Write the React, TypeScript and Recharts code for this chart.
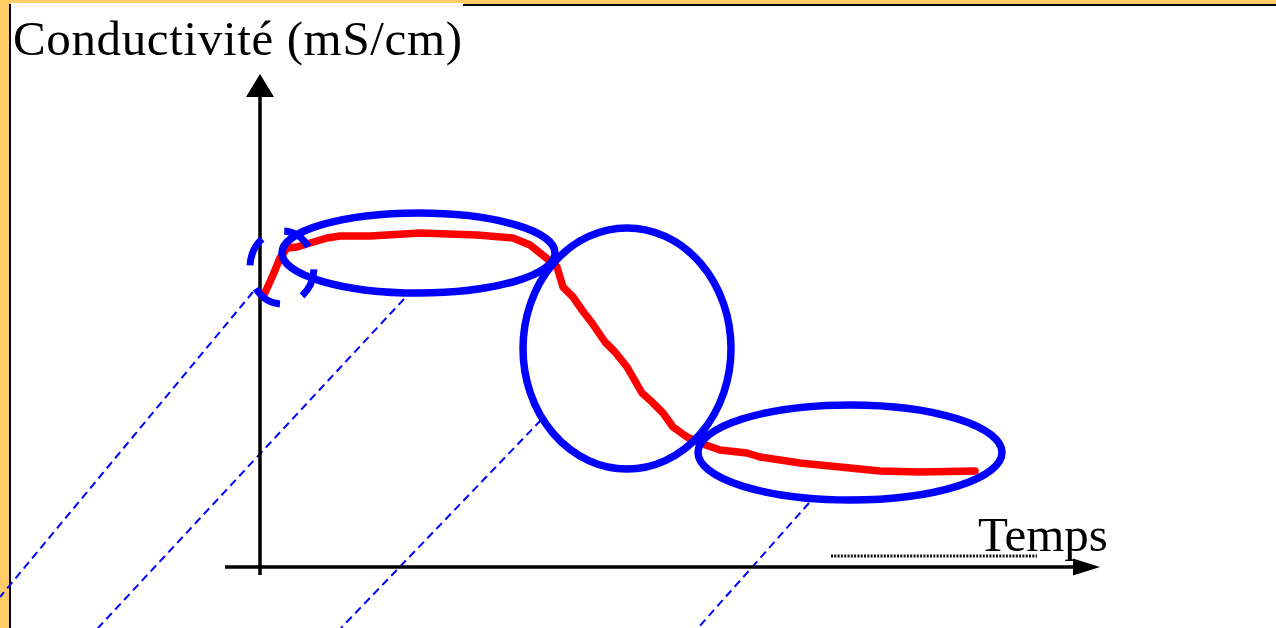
import React from "react";
import { LineChart, Line, XAxis, YAxis, ReferenceLine, ReferenceArea } from "recharts";

const W = 1276;
const H = 628;
const BLUE = "#0000FF";
const RED = "#FF0000";
const SERIF = "'Liberation Serif', 'Times New Roman', serif";

// conductivity trace: time (t) and conductivity (c), arbitrary units
const TIME = [
  0.3, 1.3, 2.0, 2.7, 3.7, 5.0, 6.7, 8.0, 11.0, 16.0, 21.7, 25.3, 27.0, 28.5,
  29.7, 30.3, 31.3, 32.2, 33.2, 34.5, 35.5, 36.7, 38.2, 39.2, 40.3, 41.3, 42.7,
  44.0, 46.0, 48.7, 50.0, 54.0, 59.0, 62.0, 66.0, 71.5,
];
const COND = [
  27.0, 29.2, 30.9, 31.9, 32.0, 32.4, 32.9, 33.1, 33.1, 33.4, 33.2, 32.9, 32.2, 31.0,
  30.0, 28.0, 27.0, 25.7, 24.4, 22.5, 21.5, 20.0, 17.4, 16.5, 15.4, 14.0, 13.0,
  12.4, 11.7, 11.4, 11.0, 10.4, 9.9, 9.6, 9.5, 9.6,
];
const curve = TIME.map((t, i) => ({ t, c: COND[i] }));

// the three phases circled on the trace: [t1, t2, c1, c2]
const PHASES = [
  [2.2, 29.5, 27.4, 35.4],
  [26.3, 47.1, 9.8, 33.9],
  [43.8, 74.2, 6.7, 16.2],
];
// dashed ring around the very first rise
const START_ZONE = [-1.0, 5.4, 26.3, 33.6];

// leader lines running from each zone down out of the frame
const LEADERS = [
  [[-0.7, 27.5], [-26.0, -3.0]],
  [[14.4, 26.8], [-16.2, -6.1]],
  [[28.1, 14.7], [8.1, -6.1]],
  [[54.9, 6.4], [43.8, -6.1]],
];

const T_MAX = 84;
const C_MAX = 49.3;

const ellipseShape = (dashed: boolean) => (p: any) => {
  const rx = Math.abs(p.width) / 2;
  const ry = Math.abs(p.height) / 2;
  const cx = p.x + p.width / 2;
  const cy = p.y + p.height / 2;
  let dash: string | undefined;
  if (dashed) {
    // Ramanujan perimeter, split in four dashes
    const per = Math.PI * (3 * (rx + ry) - Math.sqrt((3 * rx + ry) * (rx + 3 * ry)));
    dash = `${(per * 0.55) / 4} ${(per * 0.45) / 4}`;
  }
  return (
    <ellipse cx={cx} cy={cy} rx={rx} ry={ry} fill="none" stroke={BLUE}
      strokeWidth={dashed ? 7 : 7.5} strokeDasharray={dash}
      strokeDashoffset={dashed ? -2 : undefined} />
  );
};

// axis drawn as a line with a filled triangular head at its end
const arrowShape = (len: number, half: number) => (p: any) => {
  const { x1, y1, x2, y2 } = p;
  const dx = x2 - x1, dy = y2 - y1;
  const d = Math.hypot(dx, dy) || 1;
  const ux = dx / d, uy = dy / d;
  const bx = x2 - ux * len, by = y2 - uy * len;
  const pts = `${x2},${y2} ${bx - uy * half},${by + ux * half} ${bx + uy * half},${by - ux * half}`;
  return (
    <g>
      <line x1={x1} y1={y1} x2={bx} y2={by} stroke="#000" strokeWidth={3.5} />
      <polygon points={pts} fill="#000" />
    </g>
  );
};

export default function App() {
  return (
    <div style={{ position: "absolute", left: 0, top: 0, width: W, height: H, overflow: "hidden", background: "#FFCC66" }}>
      {/* slide panel */}
      <div style={{ position: "absolute", left: 9, top: 4, right: 0, bottom: 0, background: "#fff",
        borderLeft: "2px solid #000", borderTop: "2px solid #000" }} />
      <div style={{ position: "absolute", left: 11, top: 3, width: 452, height: 60, background: "#fff" }} />

      <div style={{ position: "absolute", left: 0, top: 0 }}>
        <LineChart width={W} height={H} data={curve} margin={{ top: 74, right: 176, bottom: 61, left: 260 }}>
          <XAxis type="number" dataKey="t" domain={[0, T_MAX]} hide />
          <YAxis type="number" domain={[0, C_MAX]} hide />

          {LEADERS.map((s, i) => (
            <ReferenceLine key={`l${i}`} ifOverflow="visible"
              segment={[{ x: s[0][0], y: s[0][1] }, { x: s[1][0], y: s[1][1] }]}
              stroke={BLUE} strokeWidth={2} strokeDasharray="8 5" />
          ))}

          <ReferenceLine ifOverflow="visible" segment={[{ x: 0, y: -0.8 }, { x: 0, y: C_MAX }]}
            shape={arrowShape(23, 14)} />
          <ReferenceLine ifOverflow="visible" segment={[{ x: -3.5, y: 0 }, { x: T_MAX, y: 0 }]}
            shape={arrowShape(27, 8.5)} />
          <ReferenceLine ifOverflow="visible" segment={[{ x: 57.1, y: 1.1 }, { x: 77.7, y: 1.1 }]}
            stroke="#111" strokeWidth={3} strokeDasharray="2 1.3" />

          <Line type="linear" dataKey="c" stroke={RED} strokeWidth={7.5} dot={false}
            strokeLinejoin="round" strokeLinecap="round" isAnimationActive={false} />

          {PHASES.map((b, i) => (
            <ReferenceArea key={`p${i}`} ifOverflow="visible" zIndex={700}
              x1={b[0]} x2={b[1]} y1={b[2]} y2={b[3]} shape={ellipseShape(false)} />
          ))}
          <ReferenceArea ifOverflow="visible" zIndex={700}
            x1={START_ZONE[0]} x2={START_ZONE[1]} y1={START_ZONE[2]} y2={START_ZONE[3]}
            shape={ellipseShape(true)} />
        </LineChart>
      </div>

      <svg width={W} height={H} style={{ position: "absolute", left: 0, top: 0, pointerEvents: "none" }}>
        <text x={13} y={55} fontFamily={SERIF} fontSize={49} textLength={449} lengthAdjust="spacing" fill="#000">
          Conductivité (mS/cm)
        </text>
        <text x={978} y={551} fontFamily={SERIF} fontSize={49} fill="#000">Temps</text>
      </svg>
    </div>
  );
}
